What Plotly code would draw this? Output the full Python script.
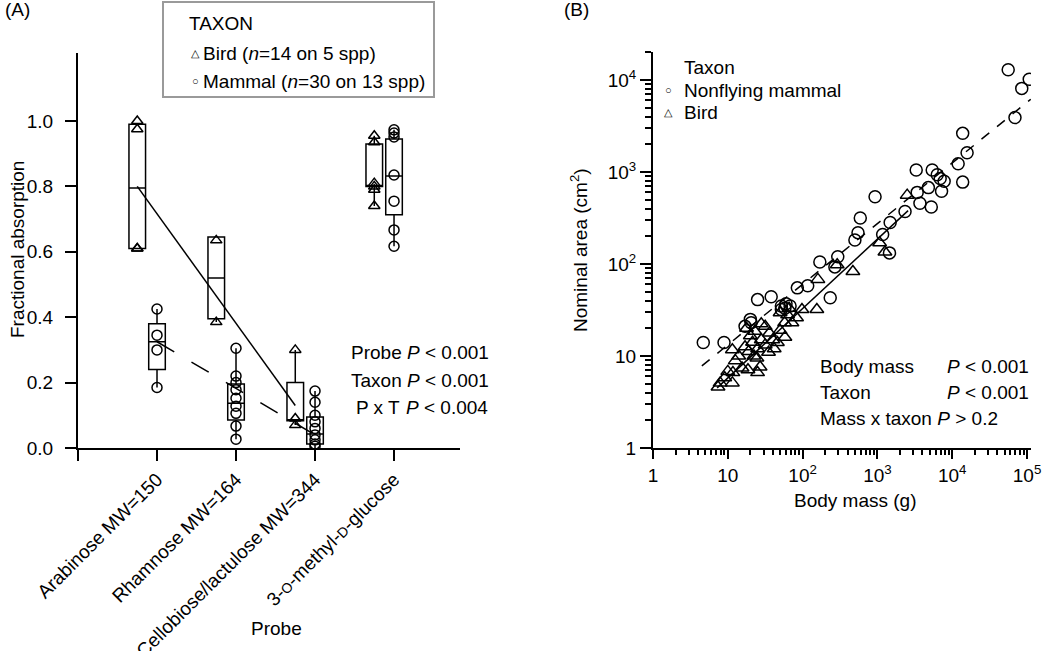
import plotly.graph_objects as go

W, H = 1050, 651
FONT = "Liberation Sans, Arial, sans-serif"

# ---------------- panel A data ----------------
probe_labels = ["", "Arabinose MW=150", "Rhamnose MW=164", "Cellobiose/lactulose MW=344",
                "3-<span style='font-size:14px'>O</span>-methyl-<span style='font-size:14px'>D</span>-glucose"]
probe_pos = [1, 2, 3, 4]

bird_q1 = [0.61, 0.395, 0.083, 0.80]
bird_med = [0.795, 0.52, 0.085, 0.80]
bird_q3 = [0.99, 0.645, 0.20, 0.93]
bird_lo = [0.61, 0.385, 0.07, 0.74]
bird_hi = [0.99, 0.645, 0.30, 0.955]

mam_q1 = [0.24, 0.086, 0.012, 0.713]
mam_med = [0.325, 0.137, 0.043, 0.832]
mam_q3 = [0.38, 0.196, 0.095, 0.945]
mam_lo = [0.185, 0.027, 0.0, 0.617]
mam_hi = [0.425, 0.305, 0.174, 0.973]

bird_probe = [1, 1, 1, 1, 2, 2, 3, 3, 3, 4, 4, 4, 4, 4, 4]
bird_abs = [1.0, 0.975, 0.61, 0.61, 0.635, 0.385, 0.30, 0.09, 0.07,
            0.955, 0.935, 0.81, 0.80, 0.79, 0.74]

mam_probe = [1, 1, 1, 1,
             2, 2, 2, 2, 2, 2, 2, 2, 2,
             3, 3, 3, 3, 3, 3, 3, 3, 3,
             4, 4, 4, 4, 4, 4, 4]
mam_abs = [0.425, 0.345, 0.30, 0.185,
           0.305, 0.22, 0.20, 0.178, 0.152, 0.128, 0.106, 0.067, 0.027,
           0.174, 0.14, 0.10, 0.08, 0.06, 0.04, 0.025, 0.012, 0.005,
           0.973, 0.963, 0.951, 0.835, 0.755, 0.667, 0.617]

bird_fit_x = [1, 3]
bird_fit_y = [0.80, 0.13]
mam_fit_x = [1, 3]
mam_fit_y = [0.325, 0.04]

# ---------------- panel B data ----------------
mam_mass = [4.7, 8.9, 17, 20, 20.5, 25, 38, 52, 60, 68, 52, 58, 85, 117, 170, 234, 270, 295,
            500, 550, 590, 930, 1175, 1450, 1480, 2340, 3300, 3400, 3700, 4800, 5250, 5400,
            6300, 6900, 7800, 7200, 12000, 13800, 13800, 15800, 56000, 69000, 85000, 107000]
mam_area = [14, 14, 21, 25, 23, 41, 44, 35, 37, 35, 32, 33, 55, 58, 105, 43, 93, 120,
            182, 219, 316, 537, 209, 132, 282, 372, 1050, 600, 457, 676, 417, 1050,
            933, 851, 794, 617, 1230, 776, 2630, 1620, 12900, 3900, 8100, 10200]

bird_mass = [7.4, 7.9, 9.1, 10, 11.5, 11.5, 15.5, 18.6, 25, 27, 17, 24.5, 35, 46, 58, 72, 50, 98,
             155, 160, 290, 470, 1070, 1260, 2500, 17.8, 20, 21.4, 23, 25, 28, 31.6, 31.6, 36,
             40, 28, 22.4, 19, 41.7, 50, 57.5, 63, 83, 14, 12.6, 66, 11.7]
bird_area = [4.6, 5.1, 5.8, 6.8, 5.1, 11.7, 7.4, 7.1, 6.6, 7.6, 12.6, 9.5, 11, 14, 16, 23, 29.5, 32,
             32, 68, 98, 83, 170, 135, 560, 20, 16.6, 14.1, 18.6, 12, 15, 13.2, 21, 17.8,
             15, 22.4, 10, 11.2, 12, 19, 23, 28, 26, 10, 8.9, 33, 6.6]

mam_line_mass = [4.5, 112000]
mam_line_area = [7.8, 6170]
bird_line_mass = [7.2, 2570]
bird_line_area = [4.5, 380]


def px(x):
    return x / W


def py(y):
    return 1 - y / H


fig = go.Figure()

box_style = dict(width=0.21, line=dict(color="black", width=1.5), fillcolor="rgba(0,0,0,0)",
                 whiskerwidth=0, boxpoints=False, showlegend=False, hoverinfo="skip")
fig.add_trace(go.Box(x=[p - 0.25 for p in probe_pos], q1=bird_q1, median=bird_med, q3=bird_q3,
                     lowerfence=bird_lo, upperfence=bird_hi, **box_style))
fig.add_trace(go.Box(x=probe_pos, q1=mam_q1, median=mam_med, q3=mam_q3,
                     lowerfence=mam_lo, upperfence=mam_hi, **box_style))

fig.add_trace(go.Scatter(x=[p - 0.25 for p in bird_fit_x], y=bird_fit_y, mode="lines",
                         line=dict(color="black", width=1.5), showlegend=False))
fig.add_trace(go.Scatter(x=mam_fit_x, y=mam_fit_y, mode="lines",
                         line=dict(color="black", width=1.5, dash="20px,20px"), showlegend=False))

fig.add_trace(go.Scatter(x=[p - 0.25 for p in bird_probe], y=bird_abs, mode="markers",
                         marker=dict(symbol="triangle-up-open", size=10, color="black",
                                     line=dict(width=1.5)), showlegend=False))
fig.add_trace(go.Scatter(x=mam_probe, y=mam_abs, mode="markers",
                         marker=dict(symbol="circle-open", size=10, color="black",
                                     line=dict(width=1.5)), showlegend=False))

# panel B
fig.add_trace(go.Scatter(x=mam_line_mass, y=mam_line_area, mode="lines", xaxis="x2", yaxis="y2",
                         line=dict(color="black", width=1.5, dash="10px,10px"), showlegend=False))
fig.add_trace(go.Scatter(x=bird_line_mass, y=bird_line_area, mode="lines", xaxis="x2", yaxis="y2",
                         line=dict(color="black", width=1.5), showlegend=False))
fig.add_trace(go.Scatter(x=mam_mass, y=mam_area, mode="markers", xaxis="x2", yaxis="y2",
                         marker=dict(symbol="circle-open", size=12, color="black",
                                     line=dict(width=1.5)), showlegend=False))
fig.add_trace(go.Scatter(x=bird_mass, y=bird_area, mode="markers", xaxis="x2", yaxis="y2",
                         marker=dict(symbol="triangle-up-open", size=12, color="black",
                                     line=dict(width=1.5)), showlegend=False))

axis_common = dict(showgrid=False, zeroline=False, showline=True, linecolor="black", linewidth=2,
                   ticks="outside", tickcolor="black", tickwidth=1.5, automargin=False,
                   tickfont=dict(family=FONT, size=19, color="black"))

fig.update_layout(
    width=W, height=H, margin=dict(l=0, r=0, t=0, b=0),
    plot_bgcolor="white", paper_bgcolor="white",
    font=dict(family=FONT, size=19, color="black"),
    showlegend=False,
    xaxis=dict(domain=[px(78), px(460)], range=[0, 4.835], tickmode="array",
               tickvals=[0, 1, 2, 3, 4], ticktext=probe_labels, tickangle=-45, ticklen=11,
               anchor="y", **axis_common),
    yaxis=dict(domain=[py(448), py(53)], range=[0, 1.208], tickmode="array",
               tickvals=[0, 0.2, 0.4, 0.6, 0.8, 1.0],
               ticktext=["0.0", "0.2", "0.4", "0.6", "0.8", "1.0"], ticklen=11,
               ticklabelstandoff=8, anchor="x", **axis_common),
    xaxis2=dict(domain=[px(653), px(1031)], type="log", range=[0, 5.053], tickmode="array",
                tickvals=[1, 10, 100, 1000, 10000, 100000],
                ticktext=["1", "10", "10<sup>2</sup>", "10<sup>3</sup>", "10<sup>4</sup>", "10<sup>5</sup>"],
                ticklen=9, anchor="y2",
                minor=dict(ticks="outside", ticklen=5, dtick="D1", tickcolor="black", showgrid=False),
                **axis_common),
    yaxis2=dict(domain=[py(448), py(52)], type="log", range=[0, 4.304], tickmode="array",
                tickvals=[1, 10, 100, 1000, 10000],
                ticktext=["1", "10", "10<sup>2</sup>", "10<sup>3</sup>", "10<sup>4</sup>"],
                ticklen=11, anchor="x2",
                minor=dict(ticks="outside", ticklen=6, dtick="D1", tickcolor="black", showgrid=False),
                **axis_common),
)

fig.add_shape(type="rect", xref="paper", yref="paper", x0=px(163), x1=px(434), y0=py(97), y1=py(2),
              line=dict(color="#9a9a9a", width=2))


def note(text, x, y, xanchor="left", size=19, angle=0):
    fig.add_annotation(text=text, x=px(x), y=py(y), xref="paper", yref="paper",
                       xanchor=xanchor, yanchor="middle", showarrow=False, textangle=angle,
                       font=dict(family=FONT, size=size, color="black"))


note("(A)", 3, 10)
note("(B)", 562, 10)

note("TAXON", 187, 24)
note("△", 195, 53, xanchor="center", size=11)
note("Bird (<i>n</i>=14 on 5 spp)", 201, 53)
note("○", 195, 81, xanchor="center", size=11)
note("Mammal (<i>n</i>=30 on 13 spp)", 201, 81)

note("Probe <i>P</i> &lt; 0.001", 349, 353)
note("Taxon <i>P</i> &lt; 0.001", 349, 380)
note("P x T", 354, 407)
note("<i>P</i> &lt; 0.004", 404, 407)

note("Fractional absorption", 17, 250, xanchor="center", angle=-90)
note("Probe", 276, 628, xanchor="center")

note("Taxon", 682, 68)
note("○", 668, 90, xanchor="center", size=11)
note("Nonflying mammal", 682, 90)
note("△", 668, 112, xanchor="center", size=11)
note("Bird", 682, 112)

note("Body mass", 818, 366)
note("<i>P</i> &lt; 0.001", 945, 366)
note("Taxon", 818, 392)
note("<i>P</i> &lt; 0.001", 945, 392)
note("Mass x taxon <i>P</i> &gt; 0.2", 818, 419)

note("Nominal area (cm<sup>2</sup>)", 579, 250, xanchor="center", angle=-90)
note("Body mass (g)", 855, 500, xanchor="center")

# the page puts an 8px margin round the body; drop it so the figure sits at 0,0
fig.write_html("out.html", config={"displayModeBar": False},
               post_script="document.body.style.margin='0';")
